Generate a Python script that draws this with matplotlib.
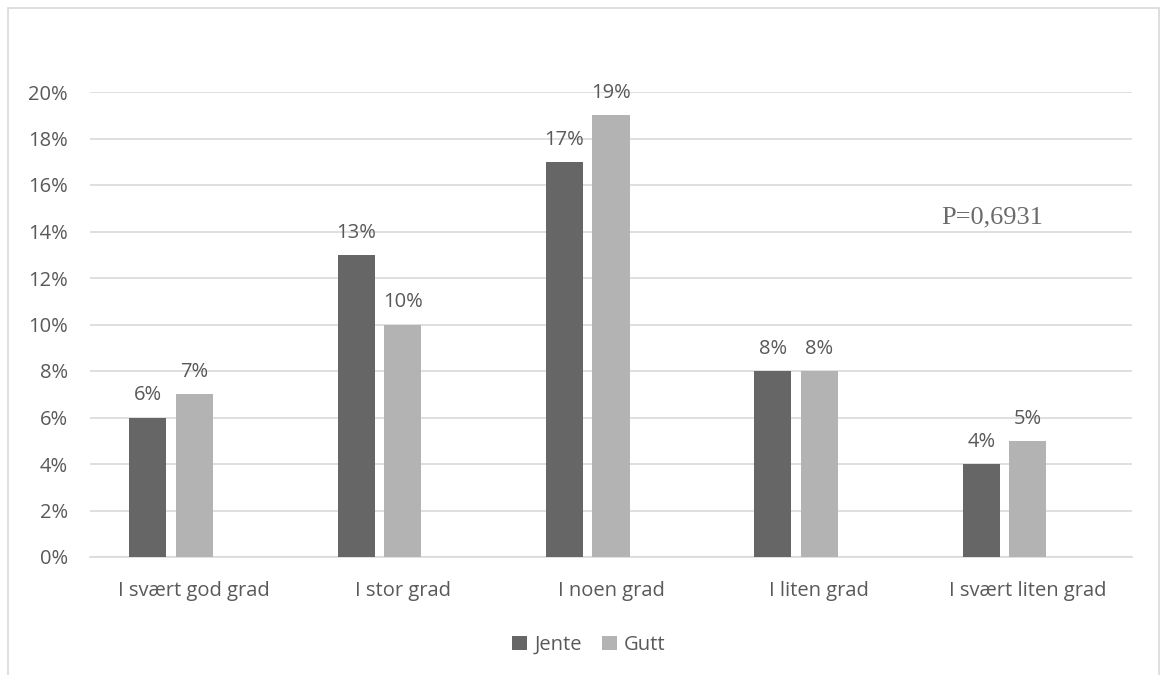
import matplotlib.pyplot as plt
from matplotlib.patches import Rectangle
import numpy as np

categories = ['I svært god grad', 'I stor grad', 'I noen grad', 'I liten grad', 'I svært liten grad']
jente = [6, 13, 17, 8, 4]
gutt = [7, 10, 19, 8, 5]
yticks = [0, 2, 4, 6, 8, 10, 12, 14, 16, 18, 20]

plt.rcParams['font.family'] = ['Open Sans', 'DejaVu Sans']

fig = plt.figure(figsize=(11.61, 6.75), dpi=100)
W, H = 1161, 675
ax = fig.add_axes([90 / W, 1 - 557 / H, (1132 - 90) / W, (557 - 92) / H])

# outer chart border
fig.patches.append(Rectangle((8 / W, -0.05), (1159 - 8) / W, 1 - 8 / H + 0.05,
                             transform=fig.transFigure, fill=False,
                             edgecolor='#d9d9d9', linewidth=1.2))

x = np.arange(len(categories))
slot = 0.223
width = 0.178
dark = '#666666'
light = '#b3b3b3'
text_col = '#595959'
fs = 14.5

b1 = ax.bar(x - slot, jente, width, color=dark, label='Jente', zorder=3)
b2 = ax.bar(x, gutt, width, color=light, label='Gutt', zorder=3)

for bars, vals in ((b1, jente), (b2, gutt)):
    for r, v in zip(bars, vals):
        ax.annotate(f'{v}%', (r.get_x() + r.get_width() / 2, v), xytext=(0, 16),
                    textcoords='offset points', ha='center', va='center',
                    fontsize=fs, color=text_col)

ax.set_xlim(-0.5, len(categories) - 0.5)
ax.set_ylim(0, 20)
ax.set_yticks(yticks)
ax.set_yticklabels([f'{t}%' for t in yticks])
ax.set_xticks(x)
ax.set_xticklabels(categories)
ax.tick_params(length=0, labelsize=fs, labelcolor=text_col)
ax.tick_params(axis='y', pad=16)
ax.tick_params(axis='x', pad=17)
ax.grid(axis='y', color='#d9d9d9', linewidth=1.2, zorder=0)
for s in ['top', 'right', 'left']:
    ax.spines[s].set_visible(False)
ax.spines['bottom'].set_color('#d9d9d9')
ax.spines['bottom'].set_linewidth(1.2)

ax.text(3.583, 14.6, 'P=0,6931', family='Liberation Serif', fontsize=19, color='#6b6b6b',
        ha='left', va='center')

fig.legend(handles=[b1, b2], loc='center', bbox_to_anchor=(589 / W, 1 - 645 / H), ncol=2,
           frameon=False, fontsize=fs, handlelength=0.75, handleheight=0.75,
           handletextpad=0.35, columnspacing=1.0, labelcolor=text_col)

fig.savefig('out.png', dpi=100)
